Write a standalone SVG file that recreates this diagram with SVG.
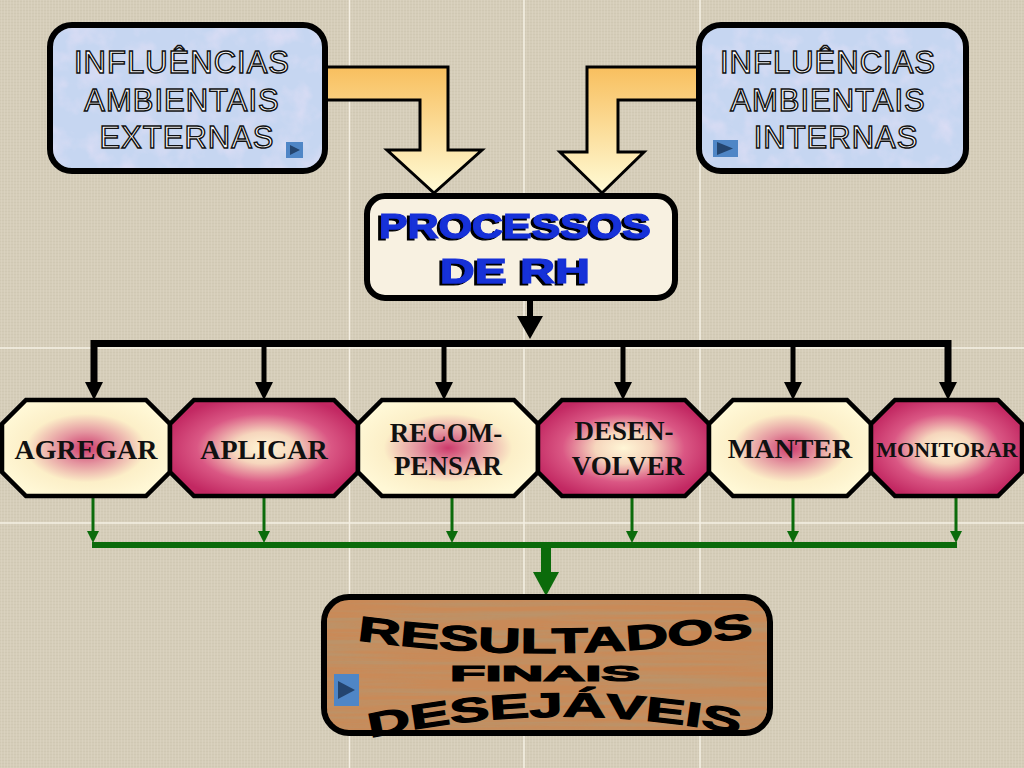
<svg xmlns="http://www.w3.org/2000/svg" width="1024" height="768" viewBox="0 0 1024 768">
<defs>
<style>
.grid{stroke:#f5f0e4;stroke-width:1.5}
.box{stroke:#000;stroke-width:6}
.infl{font-family:"Liberation Sans",Arial,sans-serif;font-size:31px;fill:#fff;stroke:#111;stroke-width:1.4;text-anchor:middle;letter-spacing:1px}
.proc{font-family:"Liberation Sans",Arial,sans-serif;font-weight:bold;font-size:35px;text-anchor:middle;fill:#1530d8;stroke:#1530d8;stroke-width:1.2;filter:url(#shadow)}
.oct{stroke:#000;stroke-width:4.5;stroke-linejoin:miter}
.olbl{font-family:"Liberation Serif","Times New Roman",serif;font-weight:bold;font-size:28px;fill:#111;text-anchor:middle}
.s27{font-size:27px}
.s22{font-size:22px}
.blk{stroke:#000;stroke-width:5;fill:none}
.grn{stroke:#0b6b0b;stroke-width:3;fill:none}
.gh{fill:#0b6b0b}
.res{font-family:"Liberation Sans",Arial,sans-serif;font-weight:bold;fill:#000;stroke:#000;stroke-width:1.2}
.btn{fill:#4f86c6}
.tri{fill:#24456f}
.barrow{stroke:#000;stroke-width:3;stroke-linejoin:miter}
</style>
<pattern id="linen" width="6" height="6" patternUnits="userSpaceOnUse">
<rect width="6" height="6" fill="#d5cdb9"/>
<path d="M0 1.5H6M0 4.5H6" stroke="#c9c0aa" stroke-width="0.7" opacity="0.6"/>
<path d="M1.5 0V6M4.5 0V6" stroke="#e0d9c8" stroke-width="0.7" opacity="0.6"/>
</pattern>
<linearGradient id="barrowL" x1="0" y1="67" x2="0" y2="193" gradientUnits="userSpaceOnUse">
<stop offset="0" stop-color="#f8bf5e"/><stop offset="1" stop-color="#fffbd6"/>
</linearGradient>
<radialGradient id="creamPink" cx="0.5" cy="0.5" r="0.55">
<stop offset="0" stop-color="#cc3a6c"/><stop offset="0.3" stop-color="#e4949f"/><stop offset="0.65" stop-color="#fcefc8"/><stop offset="1" stop-color="#fff8d6"/>
</radialGradient>
<radialGradient id="pinkCream" cx="0.5" cy="0.5" r="0.55">
<stop offset="0" stop-color="#fff6d6"/><stop offset="0.3" stop-color="#f6d6bd"/><stop offset="0.65" stop-color="#da5784"/><stop offset="1" stop-color="#c22862"/>
</radialGradient>
<filter id="shadow" x="-10%" y="-20%" width="120%" height="140%">
<feDropShadow dx="-3" dy="2" stdDeviation="0.4" flood-color="#000" flood-opacity="1"/>
</filter>
<filter id="mottle" x="0" y="0" width="1" height="1">
<feTurbulence type="fractalNoise" baseFrequency="0.045" numOctaves="3" seed="3" result="n"/>
<feColorMatrix in="n" type="matrix" values="0 0 0 0 0.88  0 0 0 0 0.78  0 0 0 0 0.94  1.8 0 0 0 -0.8" result="c"/>
<feComposite in="c" in2="SourceGraphic" operator="in"/>
</filter>
<filter id="wood" x="0" y="0" width="1" height="1">
<feTurbulence type="fractalNoise" baseFrequency="0.005 0.18" numOctaves="3" seed="5" result="n"/>
<feColorMatrix in="n" type="matrix" values="0 0 0 0 0.50  0 0 0 0 0.29  0 0 0 0 0.14  2.6 0 0 0 -0.95" result="c"/>
<feComposite in="c" in2="SourceGraphic" operator="in"/>
</filter>
</defs>

<rect width="1024" height="768" fill="url(#linen)"/>
<g id="grid">
<line class="grid" x1="349.5" y1="0" x2="349.5" y2="768"/>
<line class="grid" x1="524" y1="0" x2="524" y2="768"/>
<line class="grid" x1="700" y1="0" x2="700" y2="768"/>
<line class="grid" x1="0" y1="348" x2="1024" y2="348"/>
<line class="grid" x1="0" y1="523" x2="1024" y2="523"/>
</g>

<g id="connectors">
<path class="barrow" fill="url(#barrowL)" d="M320,67 H448 V150 H482 L434,193 L387,150 H420 V100 H320 Z"/>
<path class="barrow" fill="url(#barrowL)" d="M704,67 H587 V152 H560 L602,193 L644,152 H618 V100 H704 Z"/>
<line x1="530" y1="298" x2="530" y2="320" stroke="#000" stroke-width="6"/>
<polygon points="517,316 543,316 530,339" fill="#000"/>
<path d="M94,384 V343.5 H948 V384" stroke="#000" stroke-width="7" fill="none" stroke-linejoin="miter"/>
<line class="blk" x1="264" y1="343" x2="264" y2="384"/>
<line class="blk" x1="444" y1="343" x2="444" y2="384"/>
<line class="blk" x1="623" y1="343" x2="623" y2="384"/>
<line class="blk" x1="793" y1="343" x2="793" y2="384"/>
<polygon points="85,382 103,382 94,400" fill="#000"/>
<polygon points="255,382 273,382 264,400" fill="#000"/>
<polygon points="435,382 453,382 444,400" fill="#000"/>
<polygon points="614,382 632,382 623,400" fill="#000"/>
<polygon points="784,382 802,382 793,400" fill="#000"/>
<polygon points="939,382 957,382 948,400" fill="#000"/>
<line class="grn" x1="93" y1="496" x2="93" y2="535"/>
<line class="grn" x1="264" y1="496" x2="264" y2="535"/>
<line class="grn" x1="452" y1="496" x2="452" y2="535"/>
<line class="grn" x1="632" y1="496" x2="632" y2="535"/>
<line class="grn" x1="793" y1="496" x2="793" y2="535"/>
<line class="grn" x1="956" y1="496" x2="956" y2="535"/>
<polygon class="gh" points="87,531 99,531 93,543"/>
<polygon class="gh" points="258,531 270,531 264,543"/>
<polygon class="gh" points="446,531 458,531 452,543"/>
<polygon class="gh" points="626,531 638,531 632,543"/>
<polygon class="gh" points="787,531 799,531 793,543"/>
<polygon class="gh" points="950,531 962,531 956,543"/>
<line x1="92" y1="545" x2="957" y2="545" stroke="#0b6b0b" stroke-width="6"/>
<rect x="541" y="545" width="10" height="28" class="gh"/>
<polygon class="gh" points="533,572 559,572 546,596"/>
</g>

<g id="externas">
<rect class="box" x="50" y="25" width="275" height="146" rx="22" fill="#c6d6f1"/>
<rect x="53" y="28" width="269" height="140" rx="19" fill="#fff" filter="url(#mottle)" opacity="0.6"/>
<text class="infl" x="182" y="73">INFLUÊNCIAS</text>
<text class="infl" x="182" y="111">AMBIENTAIS</text>
<text class="infl" x="187" y="148">EXTERNAS</text>
<rect class="btn" x="286" y="142" width="17" height="16"/>
<polygon class="tri" points="290,145 300,150 290,155"/>
</g>

<g id="internas">
<rect class="box" x="699" y="25" width="267" height="146" rx="22" fill="#c6d6f1"/>
<rect x="702" y="28" width="261" height="140" rx="19" fill="#fff" filter="url(#mottle)" opacity="0.6"/>
<text class="infl" x="828" y="73">INFLUÊNCIAS</text>
<text class="infl" x="828" y="111">AMBIENTAIS</text>
<text class="infl" x="836" y="148">INTERNAS</text>
<rect class="btn" x="713" y="140" width="25" height="17"/>
<polygon class="tri" points="717,142 733,148.5 717,155"/>
</g>

<g id="processos">
<rect class="box" x="367" y="196" width="308" height="102" rx="18" fill="#f8f1e1"/>
<text class="proc" x="515" y="238" textLength="272" lengthAdjust="spacingAndGlyphs">PROCESSOS</text>
<text class="proc" x="515" y="283" textLength="150" lengthAdjust="spacingAndGlyphs">DE  RH</text>
</g>

<g id="agregar">
<polygon class="oct" fill="url(#creamPink)" points="26,400 146,400 170,424 170,472 146,496 26,496 2,472 2,424"/>
<text class="olbl" x="86" y="459">AGREGAR</text>
</g>
<g id="aplicar">
<polygon class="oct" fill="url(#pinkCream)" points="194,400 334,400 358,424 358,472 334,496 194,496 170,472 170,424"/>
<text class="olbl" x="264" y="459">APLICAR</text>
</g>
<g id="recompensar">
<polygon class="oct" fill="url(#creamPink)" points="382,400 514,400 538,424 538,472 514,496 382,496 358,472 358,424"/>
<text class="olbl s27" x="446" y="442">RECOM-</text>
<text class="olbl s27" x="448" y="475">PENSAR</text>
</g>
<g id="desenvolver">
<polygon class="oct" fill="url(#pinkCream)" points="562,400 685,400 709,424 709,472 685,496 562,496 538,472 538,424"/>
<text class="olbl s27" x="624" y="440">DESEN-</text>
<text class="olbl s27" x="628" y="475">VOLVER</text>
</g>
<g id="manter">
<polygon class="oct" fill="url(#creamPink)" points="733,400 847,400 871,424 871,472 847,496 733,496 709,472 709,424"/>
<text class="olbl" x="790" y="458">MANTER</text>
</g>
<g id="monitorar">
<polygon class="oct" fill="url(#pinkCream)" points="895,400 998,400 1022,424 1022,472 998,496 895,496 871,472 871,424"/>
<text class="olbl s22" x="947" y="457">MONITORAR</text>
</g>

<g id="resultados">
<path id="arcTop" d="M357,640 Q555,668 757,636" fill="none"/>
<path id="arcBot" d="M370,738 Q555,697 744,735" fill="none"/>
<rect class="box" x="324" y="597" width="446" height="136" rx="25" fill="#c98a58"/>
<rect x="327" y="600" width="440" height="130" rx="22" fill="#fff" filter="url(#wood)"/>
<text class="res" font-size="35" textLength="398" lengthAdjust="spacingAndGlyphs"><textPath href="#arcTop">RESULTADOS</textPath></text>
<text class="res" x="545" y="681" font-size="22" text-anchor="middle" textLength="190" lengthAdjust="spacingAndGlyphs">FINAIS</text>
<text class="res" font-size="34" textLength="372" lengthAdjust="spacingAndGlyphs"><textPath href="#arcBot">DESEJÁVEIS</textPath></text>
<rect class="btn" x="334" y="674" width="25" height="32"/>
<polygon class="tri" points="338,681 355,690 338,699"/>
</g>
</svg>
